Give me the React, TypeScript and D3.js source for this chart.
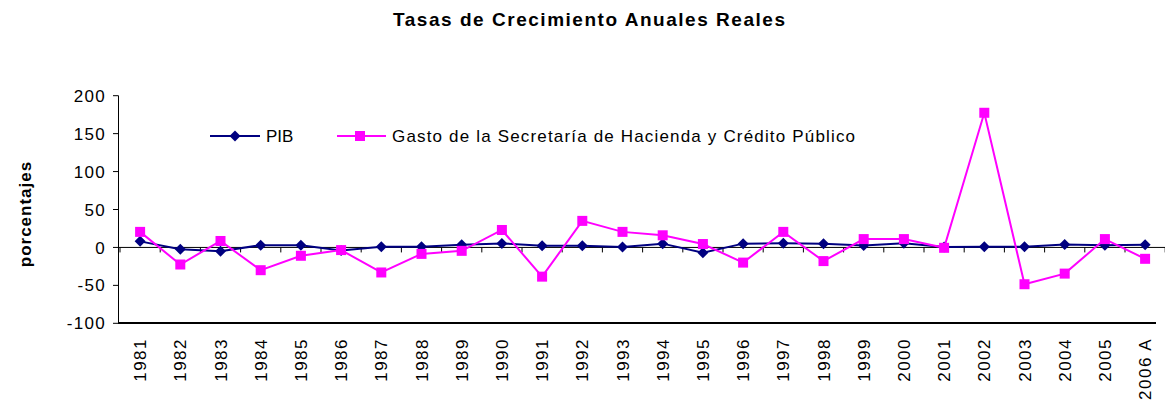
import React from "react";
import * as d3 from "d3";

const categories = ["1981","1982","1983","1984","1985","1986","1987","1988","1989","1990","1991","1992","1993","1994","1995","1996","1997","1998","1999","2000","2001","2002","2003","2004","2005","2006 A"];
const pib = [8, -2.5, -5, 3, 3, -4, 1, 1, 3.6, 5.3, 2.3, 2.3, 0.5, 5, -7, 5, 5.5, 5, 2.5, 5.5, 0.5, 0.8, 1, 4, 3, 3.5];
const gasto = [20.5, -22.5, 8.5, -30, -11, -3.5, -33, -8.5, -4.5, 23, -38.5, 35, 20.5, 16, 4.5, -20, 20.5, -18, 11, 11, -0.5, 177.5, -48.5, -34.5, 11, -15];
const yTicks = [-100, -50, 0, 50, 100, 150, 200];
const title = "Tasas de Crecimiento Anuales Reales";
const yLabel = "porcentajes";
const seriesNames = ["PIB", "Gasto de la Secretaría de Hacienda y Crédito Público"];

const W = 1165, H = 404;
const FONT = "'Liberation Sans', Arial, sans-serif";

export default function App() {
  const x = d3.scaleBand<string>().domain(categories).range([120, 1165.2]).padding(0);
  const y = d3.scaleLinear().domain([-100, 200]).range([323.3, 95.7]);
  const cx = (c: string) => (x(c) as number) + x.bandwidth() / 2;
  const line = d3.line<number>().x((_, i) => cx(categories[i])).y(d => y(d));
  const diamond = (px: number, py: number, r = 5.5) => `M${px},${py - r}L${px + r},${py}L${px},${py + r}L${px - r},${py}Z`;
  const boundaries = d3.range(categories.length + 1).map(i => 120 + i * x.bandwidth());

  return (
    <svg width={W} height={H} style={{ position: "absolute", left: 0, top: 0, background: "#fff" }} fontFamily={FONT}>
      <rect x={0} y={0} width={W} height={H} fill="#fff" />
      <text x={393} y={26} fontSize={19} fontWeight="bold" textLength={392} lengthAdjust="spacing">{title}</text>
      <text transform="translate(30.5,214) rotate(-90)" textAnchor="middle" fontSize={17} fontWeight="bold" letterSpacing={1}>{yLabel}</text>
      {/* y axis */}
      <line x1={118.5} x2={118.5} y1={95.7} y2={323.3} stroke="#000" strokeWidth={1} />
      {yTicks.map(t => (
        <g key={t}>
          <line x1={113} x2={118.5} y1={y(t)} y2={y(t)} stroke="#000" />
          <text x={106} y={y(t)} dy="0.36em" textAnchor="end" fontSize={17} letterSpacing={1.3}>{t}</text>
        </g>
      ))}
      {/* bottom line */}
      <line x1={118} x2={1156} y1={323} y2={323} stroke="#000" strokeWidth={2} />
      {/* zero axis */}
      <line x1={118.5} x2={1165} y1={y(0)} y2={y(0)} stroke="#000" strokeWidth={1} />
      {boundaries.map((b, i) => (
        <line key={i} x1={b} x2={b} y1={y(0)} y2={y(0) + 5} stroke="#000" />
      ))}
      {/* x labels */}
      {categories.map(c => (
        <text key={c} transform={`translate(${cx(c)},338) rotate(-90)`} textAnchor="end" dy="0.36em" fontSize={17} letterSpacing={1.5}>{c}</text>
      ))}
      {/* series */}
      <path d={line(pib) || ""} fill="none" stroke="#000080" strokeWidth={2} />
      {pib.map((v, i) => (
        <path key={i} d={diamond(cx(categories[i]), y(v))} fill="#000080" />
      ))}
      <path d={line(gasto) || ""} fill="none" stroke="#FF00FF" strokeWidth={2} />
      {gasto.map((v, i) => (
        <rect key={i} x={cx(categories[i]) - 5} y={y(v) - 5} width={10} height={10} fill="#FF00FF" />
      ))}
      {/* legend */}
      <line x1={210} x2={260} y1={136} y2={136} stroke="#000080" strokeWidth={2} />
      <path d={diamond(235, 136)} fill="#000080" />
      <text x={266} y={136} dy="0.36em" fontSize={17}>{seriesNames[0]}</text>
      <line x1={337} x2={386} y1={136} y2={136} stroke="#FF00FF" strokeWidth={2} />
      <rect x={355} y={131} width={10} height={10} fill="#FF00FF" />
      <text x={392} y={136} dy="0.36em" fontSize={17} textLength={463} lengthAdjust="spacing">{seriesNames[1]}</text>
    </svg>
  );
}
